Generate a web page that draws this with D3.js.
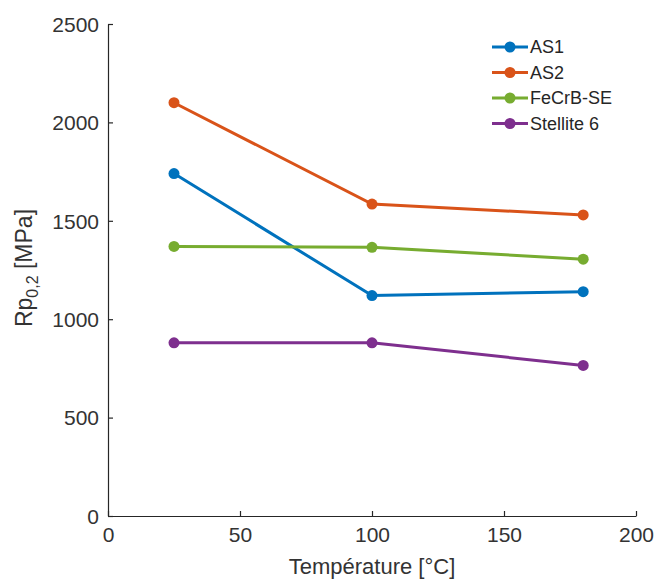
<!DOCTYPE html>
<html><head><meta charset="utf-8">
<script src="https://cdn.jsdelivr.net/npm/d3@7"></script>
<style>body{margin:0;background:#fff}svg{display:block}</style>
</head><body><svg id="c" width="656" height="580"></svg>
<script>
const temperatures = [25, 100, 180];
const seriesNames = ["AS1", "AS2", "FeCrB-SE", "Stellite 6"];
const as1 = [1740, 1120, 1140];
const as2 = [2100, 1585, 1530];
const fecrb = [1370, 1365, 1305];
const stellite = [880, 880, 765];
const xTicks = [0, 50, 100, 150, 200];
const yTicks = [0, 500, 1000, 1500, 2000, 2500];
const colors = ["#0072BD", "#D95319", "#77AC30", "#7E2F8E"];

const seriesValues = [as1, as2, fecrb, stellite];
const svg = d3.select("#c");
const font = "'Liberation Sans', Arial, sans-serif";
const axisColor = "#262626";
const x = d3.scaleLinear().domain([0, 200]).range([108, 636]);
const y = d3.scaleLinear().domain([0, 2500]).range([516, 24]);

const gx = svg.append("g").attr("transform", `translate(0,${y(0)})`)
  .call(d3.axisBottom(x).tickValues(xTicks).tickFormat(d3.format("d")).tickSizeInner(-5).tickSizeOuter(0).tickPadding(11));
const gy = svg.append("g").attr("transform", `translate(${x(0)},0)`)
  .call(d3.axisLeft(y).tickValues(yTicks).tickFormat(d3.format("d")).tickSizeInner(-5).tickSizeOuter(0).tickPadding(9));
[gx, gy].forEach(g => {
  g.select(".domain").attr("stroke", axisColor).attr("stroke-width", 1.2);
  g.selectAll(".tick line").attr("stroke", axisColor).attr("stroke-width", 1.2);
  g.selectAll(".tick text").attr("fill", "#333").style("font-family", font).style("font-size", "21px");
});
gy.selectAll(".tick text").attr("dy", "0.35em");

const line = d3.line().x((d, i) => x(temperatures[i])).y(d => y(d));
seriesValues.forEach((vals, k) => {
  svg.append("path").datum(vals).attr("d", line).attr("fill", "none")
    .attr("stroke", colors[k]).attr("stroke-width", 3);
  svg.selectAll(null).data(vals).enter().append("circle")
    .attr("cx", (d, i) => x(temperatures[i])).attr("cy", d => y(d)).attr("r", 5.5)
    .attr("fill", colors[k]);
});

// legend
const lg = svg.append("g");
seriesNames.forEach((name, k) => {
  const yy = 47 + k * 25.5;
  lg.append("line").attr("x1", 492).attr("x2", 528).attr("y1", yy).attr("y2", yy)
    .attr("stroke", colors[k]).attr("stroke-width", 3);
  lg.append("circle").attr("cx", 510).attr("cy", yy).attr("r", 5.5).attr("fill", colors[k]);
  lg.append("text").attr("x", 530).attr("y", yy).attr("dy", "0.35em")
    .style("font-family", font).style("font-size", "18px").attr("fill", axisColor).text(name);
});

// axis labels
svg.append("text").attr("x", 372).attr("y", 574).attr("text-anchor", "middle")
  .style("font-family", font).style("font-size", "22px").attr("fill", "#333")
  .text("Température [°C]");
const yl = svg.append("text").attr("transform", "translate(32,268) rotate(-90)")
  .attr("text-anchor", "middle").style("font-family", font).style("font-size", "23px")
  .attr("fill", "#333");
yl.append("tspan").text("Rp");
yl.append("tspan").attr("dy", 6).style("font-size", "16px").text("0,2");
yl.append("tspan").attr("dy", -6).text(" [MPa]");
</script></body></html>
